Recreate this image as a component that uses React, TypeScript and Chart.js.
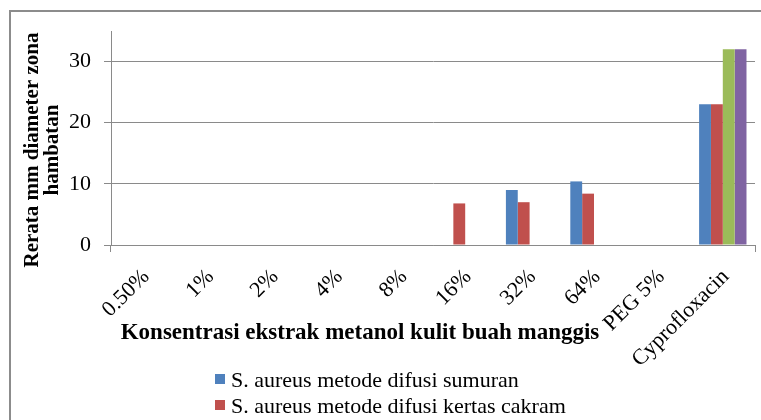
import React, { useEffect, useRef } from 'react';
import { Chart, registerables } from 'chart.js';

Chart.register(...registerables);

const categories = ['0.50%', '1%', '2%', '4%', '8%', '16%', '32%', '64%', 'PEG 5%', 'Cyprofloxacin'];
const seriesNames = [
  'S. aureus metode difusi sumuran',
  'S. aureus metode difusi kertas cakram',
  'Seri 3',
  'Seri 4',
];
const sumuran = [0, 0, 0, 0, 0, 0, 9, 10.4, 0, 23];
const kertasCakram = [0, 0, 0, 0, 0, 6.8, 7, 8.4, 0, 23];
const series3 = [0, 0, 0, 0, 0, 0, 0, 0, 0, 32];
const series4 = [0, 0, 0, 0, 0, 0, 0, 0, 0, 32];
const yTickValues = [0, 10, 20, 30];
const yMax = 35;
const yTitleLines = ['Rerata mm diameter zona', 'hambatan'];
const xTitle = 'Konsentrasi ekstrak metanol kulit buah manggis';
const seriesColors = ['#4F81BD', '#C0504D', '#9BBB59', '#8064A2'];

const W = 761;
const H = 420;
const SERIF = '"Liberation Serif", "Times New Roman", serif';
const AXIS_GRAY = '#8a8a8a';

const decorPlugin = {
  id: 'decor',
  beforeDraw(chart: any) {
    const ctx = chart.ctx;
    ctx.save();
    ctx.fillStyle = '#ffffff';
    ctx.fillRect(0, 0, chart.width, chart.height);
    ctx.strokeStyle = '#8c8c8c';
    ctx.lineWidth = 2;
    ctx.beginPath();
    ctx.moveTo(10, chart.height + 5);
    ctx.lineTo(10, 11);
    ctx.lineTo(chart.width + 5, 11);
    ctx.stroke();
    ctx.restore();
  },
  afterDraw(chart: any) {
    const ctx = chart.ctx;
    ctx.save();
    ctx.fillStyle = '#000000';
    // Y axis title (two lines, rotated)
    ctx.font = `bold 21px ${SERIF}`;
    ctx.textAlign = 'center';
    ctx.textBaseline = 'alphabetic';
    const yBase = [38, 58];
    yTitleLines.forEach((line, i) => {
      ctx.save();
      ctx.translate(yBase[i], 150);
      ctx.rotate(-Math.PI / 2);
      ctx.fillText(line, 0, 0);
      ctx.restore();
    });
    // X axis title
    ctx.font = `bold 23px ${SERIF}`;
    ctx.textAlign = 'center';
    ctx.fillText(xTitle, 360, 339);
    // Legend (vertical list, left aligned)
    ctx.font = `22px ${SERIF}`;
    ctx.textAlign = 'left';
    chart.data.datasets.forEach((ds: any, i: number) => {
      const cy = 379 + i * 26;
      if (cy - 12 > chart.height) return;
      ctx.fillStyle = ds.backgroundColor;
      ctx.fillRect(215, cy - 5, 10, 10);
      ctx.fillStyle = '#000000';
      ctx.fillText(ds.label, 231, cy + 8);
    });
    ctx.restore();
  },
};

export default function App() {
  const canvasRef = useRef<HTMLCanvasElement | null>(null);

  useEffect(() => {
    const canvas = canvasRef.current;
    if (!canvas) return;
    const dataSeries = [sumuran, kertasCakram, series3, series4];
    const chart = new Chart(canvas, {
      type: 'bar',
      data: {
        labels: categories,
        datasets: dataSeries.map((d, i) => ({
          label: seriesNames[i],
          data: d,
          backgroundColor: seriesColors[i],
          borderWidth: 0,
          categoryPercentage: 0.736,
          barPercentage: 1,
        })),
      },
      options: {
        responsive: false,
        animation: false,
        devicePixelRatio: 1,
        layout: { padding: { left: 0, right: 6, top: 31, bottom: 0 } },
        plugins: {
          legend: { display: false },
          tooltip: { enabled: false },
          title: { display: false },
        },
        scales: {
          x: {
            afterFit: (scale: any) => {
              scale.height = H - 245;
            },
            grid: {
              display: true,
              drawOnChartArea: false,
              drawTicks: true,
              tickLength: 7,
              offset: true,
              color: (c: any) =>
                c.type !== 'tick' || c.index === 0 ? AXIS_GRAY : 'rgba(0,0,0,0)',
            },
            border: { display: true, color: AXIS_GRAY, width: 1 },
            ticks: {
              autoSkip: false,
              maxRotation: 45,
              minRotation: 45,
              padding: 12,
              labelOffset: 3,
              color: '#000000',
              font: { family: SERIF, size: 22 },
            },
          },
          y: {
            min: 0,
            max: yMax,
            afterFit: (scale: any) => {
              scale.width = 111;
            },
            afterBuildTicks: (scale: any) => {
              scale.ticks = yTickValues.map((v) => ({ value: v }));
            },
            grid: {
              color: AXIS_GRAY,
              lineWidth: 1,
              drawTicks: true,
              tickLength: 7,
            },
            border: { display: true, color: AXIS_GRAY, width: 1 },
            ticks: {
              padding: 13,
              color: '#000000',
              font: { family: SERIF, size: 22 },
            },
          },
        },
      },
      plugins: [decorPlugin],
    });
    return () => chart.destroy();
  }, []);

  return (
    <div style={{ position: 'absolute', left: 0, top: 0, width: W, height: H, overflow: 'hidden' }}>
      <canvas ref={canvasRef} width={W} height={H} style={{ width: W, height: H, display: 'block' }} />
    </div>
  );
}
